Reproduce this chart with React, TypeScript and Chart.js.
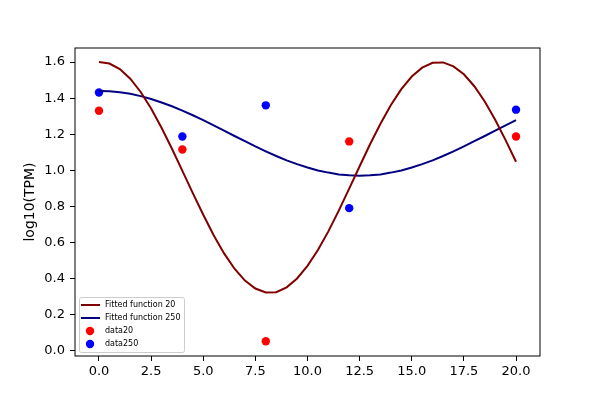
import { useEffect, useRef } from "react";
import { Chart, registerables } from "chart.js";

Chart.register(...registerables);

// time points of the fitted curves
const fitX = [
  0, 0.5, 1, 1.5, 2, 2.5, 3, 3.5, 4, 4.5, 5, 5.5, 6, 6.5, 7, 7.5, 8, 8.5, 9, 9.5, 10,
  10.5, 11, 11.5, 12, 12.5, 13, 13.5, 14, 14.5, 15, 15.5, 16, 16.5, 17, 17.5, 18, 18.5,
  19, 19.5, 20,
];
const fit20 = [
  1.6, 1.592, 1.561, 1.508, 1.434, 1.342, 1.236, 1.119, 0.997, 0.873, 0.753, 0.64, 0.539,
  0.454, 0.388, 0.344, 0.322, 0.324, 0.351, 0.4, 0.47, 0.558, 0.661, 0.776, 0.898, 1.022,
  1.144, 1.258, 1.362, 1.45, 1.52, 1.569, 1.596, 1.598, 1.576, 1.532, 1.466, 1.381, 1.28,
  1.167, 1.047,
];
const fit250 = [
  1.44, 1.438, 1.433, 1.424, 1.411, 1.395, 1.376, 1.355, 1.331, 1.305, 1.278, 1.249, 1.22,
  1.19, 1.161, 1.132, 1.105, 1.079, 1.055, 1.034, 1.015, 0.999, 0.987, 0.977, 0.972, 0.97,
  0.972, 0.977, 0.987, 0.999, 1.015, 1.034, 1.055, 1.079, 1.105, 1.132, 1.161, 1.19, 1.22,
  1.249, 1.278,
];

const sampleX = [0, 4, 8, 12, 20];
const data20 = [1.33, 1.115, 0.052, 1.16, 1.187];
const data250 = [1.431, 1.187, 1.36, 0.79, 1.336];

const xTicks = [0, 2.5, 5, 7.5, 10, 12.5, 15, 17.5, 20];
const yTicks = [0, 0.2, 0.4, 0.6, 0.8, 1.0, 1.2, 1.4, 1.6];

const FONT = "'DejaVu Sans', sans-serif";

// matplotlib-like frame and legend inside the axes
const framePlugin = {
  id: "frame",
  afterDraw(chart: Chart) {
    const { ctx, chartArea } = chart;
    ctx.save();
    ctx.strokeStyle = "#000";
    ctx.lineWidth = 1;
    ctx.strokeRect(chartArea.left, chartArea.top, chartArea.right - chartArea.left, chartArea.bottom - chartArea.top);

    const bx = chartArea.left + 4;
    const by = chartArea.bottom - 59;
    const bw = 105;
    const bh = 55;
    ctx.beginPath();
    ctx.roundRect(bx + 0.5, by + 0.5, bw, bh, 2);
    ctx.fillStyle = "rgba(255,255,255,0.8)";
    ctx.fill();
    ctx.strokeStyle = "#cccccc";
    ctx.stroke();

    ctx.font = `8px ${FONT}`;
    ctx.textBaseline = "middle";
    chart.data.datasets.forEach((ds: any, i: number) => {
      const y = by + 8 + i * 13;
      if (ds.showLine) {
        ctx.strokeStyle = ds.borderColor;
        ctx.lineWidth = 2;
        ctx.beginPath();
        ctx.moveTo(bx + 2, y);
        ctx.lineTo(bx + 21, y);
        ctx.stroke();
      } else {
        ctx.fillStyle = ds.backgroundColor;
        ctx.beginPath();
        ctx.arc(bx + 11, y, 4.2, 0, Math.PI * 2);
        ctx.fill();
      }
      ctx.fillStyle = "#000";
      ctx.fillText(ds.label, bx + 26, y);
    });
    ctx.restore();
  },
};

const App = () => {
  const canvasRef = useRef<HTMLCanvasElement>(null);
  const chartRef = useRef<Chart | null>(null);

  useEffect(() => {
    if (!canvasRef.current) return;
    if (chartRef.current) chartRef.current.destroy();

    const tickOpts = {
      color: "#000",
      font: { family: FONT, size: 13 },
    };
    const gridOpts = {
      display: true,
      drawOnChartArea: false,
      drawTicks: true,
      tickLength: 5,
      color: "#000",
    };

    chartRef.current = new Chart(canvasRef.current, {
      type: "scatter",
      data: {
        datasets: [
          {
            label: "Fitted function 20",
            data: fitX.map((x, i) => ({ x, y: fit20[i] })),
            showLine: true,
            borderColor: "#800000",
            backgroundColor: "#800000",
            borderWidth: 2,
            pointRadius: 0,
          },
          {
            label: "Fitted function 250",
            data: fitX.map((x, i) => ({ x, y: fit250[i] })),
            showLine: true,
            borderColor: "#000080",
            backgroundColor: "#000080",
            borderWidth: 2,
            pointRadius: 0,
          },
          {
            label: "data20",
            data: sampleX.map((x, i) => ({ x, y: data20[i] })),
            backgroundColor: "#ff0000",
            borderColor: "#ff0000",
            pointRadius: 4.2,
            borderWidth: 0,
          },
          {
            label: "data250",
            data: sampleX.map((x, i) => ({ x, y: data250[i] })),
            backgroundColor: "#0000ff",
            borderColor: "#0000ff",
            pointRadius: 4.2,
            borderWidth: 0,
          },
        ],
      },
      options: {
        animation: false,
        responsive: false,
        maintainAspectRatio: false,
        layout: { padding: { left: 0, top: 48, right: 60, bottom: 0 } },
        plugins: {
          legend: { display: false },
          tooltip: { enabled: false },
        },
        scales: {
          x: {
            type: "linear",
            min: -1.15,
            max: 21.15,
            grid: gridOpts,
            border: { display: false },
            afterBuildTicks: (axis: any) => {
              axis.ticks = xTicks.map((value) => ({ value }));
            },
            afterFit: (axis: any) => {
              axis.height = 44;
            },
            ticks: {
              ...tickOpts,
              padding: 3,
              maxRotation: 0,
              callback: (v: any) => Number(v).toFixed(1),
            },
          },
          y: {
            type: "linear",
            min: -0.03,
            max: 1.678,
            grid: gridOpts,
            border: { display: false },
            afterBuildTicks: (axis: any) => {
              axis.ticks = yTicks.map((value) => ({ value }));
            },
            afterFit: (axis: any) => {
              axis.width = 75;
            },
            ticks: {
              ...tickOpts,
              padding: 5,
              callback: (v: any) => Number(v).toFixed(1),
            },
            title: {
              display: true,
              text: "log10(TPM)",
              color: "#000",
              font: { family: FONT, size: 14 },
              padding: { top: 22, bottom: 0 },
            },
          },
        },
      },
      plugins: [framePlugin],
    });

    return () => {
      if (chartRef.current) {
        chartRef.current.destroy();
        chartRef.current = null;
      }
    };
  }, []);

  return (
    <div style={{ position: "absolute", left: 0, top: 0, width: 600, height: 400, background: "#fff" }}>
      <canvas ref={canvasRef} width={600} height={400} />
    </div>
  );
};

export default App;
